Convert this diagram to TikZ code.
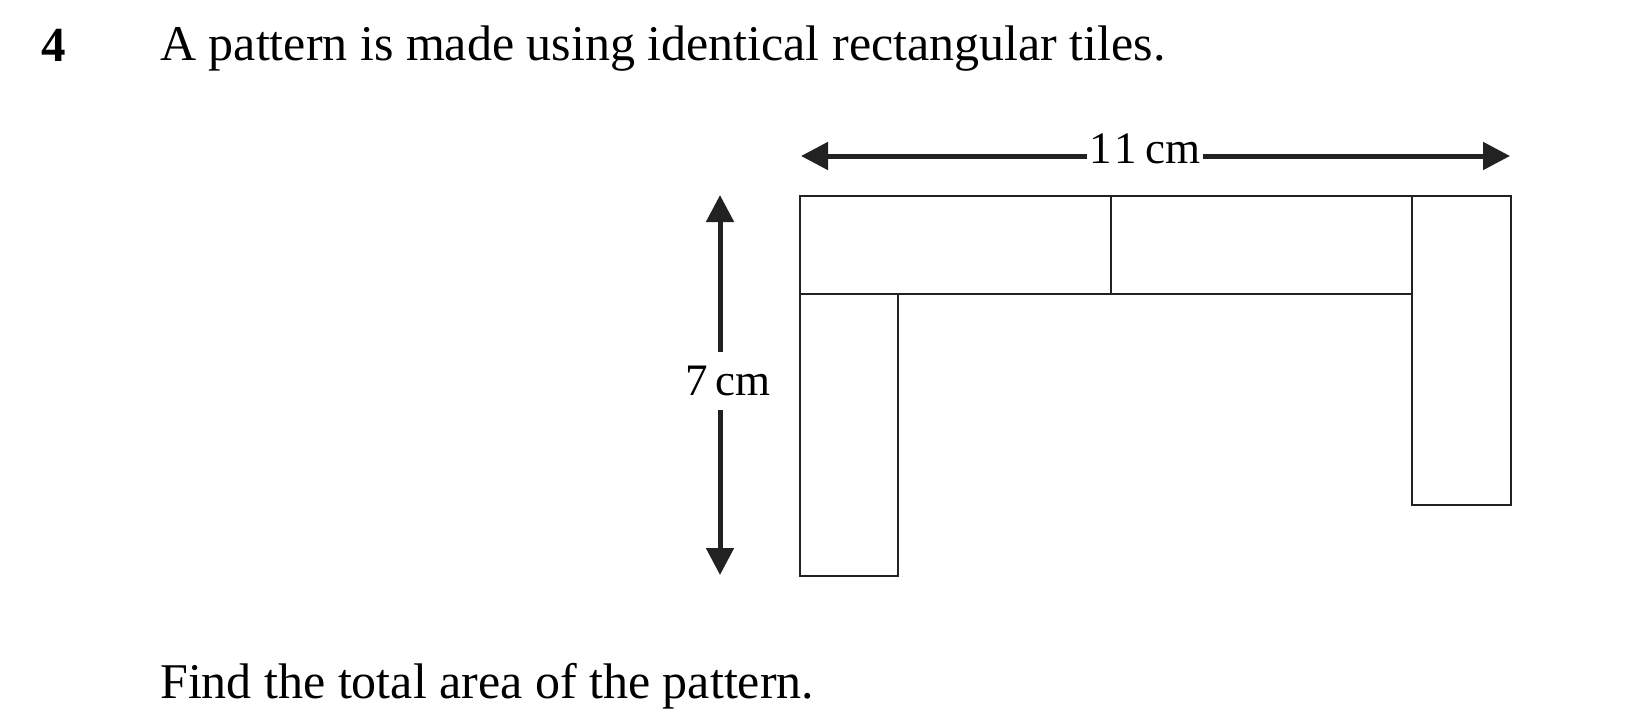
\documentclass[tikz,border=0pt]{standalone}
\usepackage{fontspec}
\setmainfont{Liberation Serif}
\usetikzlibrary{arrows.meta}
\definecolor{ink}{HTML}{222222}
\begin{document}
\begin{tikzpicture}[x=1pt,y=-1pt,
  tile/.style={draw=ink,line width=2.7pt},
  dimline/.style={draw=ink,line width=5pt,-{Triangle[length=27pt,width=27pt]}},
  txt/.style={inner sep=0pt,anchor=base west,font=\fontsize{50}{60}\selectfont},
  dimlab/.style={inner sep=0pt,font=\fontsize{45}{54}\selectfont}]
\fill[white] (0,0) rectangle (1635,725);
\useasboundingbox (0,0) rectangle (1635,725);
% texts
\node[txt,font=\fontsize{49}{58}\selectfont\bfseries] (num) at (41,62) {4};
\node[txt] (q1) at (160,61) {A pattern is made using identical rectangular tiles.};
\node[txt] (q2) at (160,698) {Find the total area of the pattern.};
% tiles
\draw[tile] (800,196) rectangle (1111,294);
\draw[tile] (1111,196) rectangle (1412,294);
\draw[tile] (1412,196) rectangle (1511,505);
\draw[tile] (800,294) rectangle (898,576);
% horizontal dimension
\coordinate (hl) at (801,156);
\coordinate (hr) at (1510,156);
\node[dimlab,minimum width=115pt] (lab11) at (1145,149) {1\hspace{0.06em}1\hspace{0.2em}cm};
\draw[dimline] (lab11.west |- hl) -- (hl);
\draw[dimline] (lab11.east |- hr) -- (hr);
% vertical dimension
\coordinate (vt) at (720,195);
\coordinate (vb) at (720,575);
\node[dimlab,minimum height=58pt] (lab7) at (728,381) {7\,cm};
\draw[dimline] (lab7.north -| vt) -- (vt);
\draw[dimline] (lab7.south -| vb) -- (vb);
\end{tikzpicture}
\end{document}
